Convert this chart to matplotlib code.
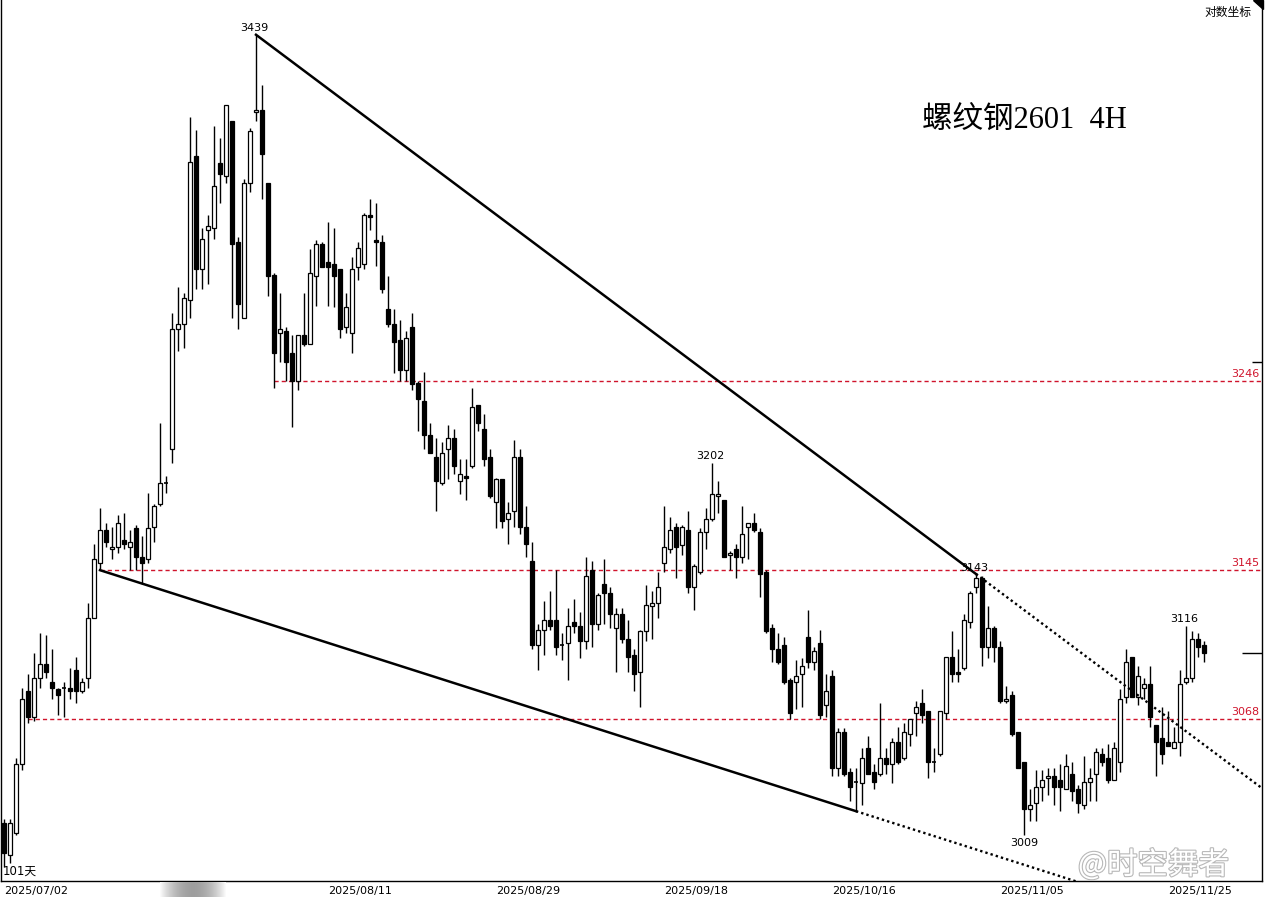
#rebar 2601 4H candles with wedge lines
import matplotlib
matplotlib.use('Agg')
import matplotlib.pyplot as plt
import matplotlib.patheffects as pe
from matplotlib.patches import Polygon
from matplotlib.ticker import FixedLocator, NullFormatter
import numpy as np

plt.rcParams['font.family'] = ['DejaVu Sans', 'Noto Sans CJK SC']

opens = [3015, 2999, 3010, 3045, 3082, 3069, 3089, 3096, 3087, 3083,
         3084, 3084, 3093, 3082, 3089, 3120, 3149, 3166, 3156, 3157,
         3161, 3157, 3167, 3152, 3151, 3168, 3180, 3191, 3209, 3274,
         3277, 3290, 3370, 3307, 3329, 3330, 3366, 3359, 3390, 3322,
         3280, 3355, 3395, 3396, 3355, 3304, 3272, 3273, 3261, 3246,
         3271, 3266, 3303, 3321, 3311, 3310, 3307, 3275, 3272, 3308,
         3310, 3337, 3323, 3322, 3285, 3277, 3268, 3252, 3275, 3245,
         3235, 3217, 3205, 3191, 3209, 3215, 3192, 3195, 3200, 3233,
         3220, 3205, 3181, 3193, 3172, 3176, 3205, 3168, 3150, 3106,
         3114, 3119, 3119, 3106, 3107, 3118, 3116, 3108, 3145, 3117,
         3138, 3133, 3115, 3122, 3109, 3101, 3092, 3113, 3126, 3128,
         3149, 3156, 3168, 3158, 3166, 3136, 3144, 3165, 3172, 3184,
         3182, 3153, 3156, 3152, 3168, 3170, 3165, 3144, 3115, 3104,
         3106, 3088, 3087, 3091, 3110, 3097, 3107, 3075, 3090, 3043,
         3061, 3041, 3036, 3035, 3053, 3041, 3040, 3048, 3045, 3056,
         3048, 3060, 3071, 3076, 3072, 3046, 3050, 3071, 3100, 3092,
         3094, 3118, 3136, 3141, 3105, 3115, 3105, 3077, 3080, 3061,
         3046, 3022, 3025, 3033, 3038, 3039, 3037, 3032, 3040, 3032,
         3024, 3036, 3040, 3050, 3048, 3037, 3046, 3079, 3100, 3079,
         3084, 3086, 3065, 3058, 3056, 3053, 3056, 3087, 3089, 3109,
         3106]
highs = [3017, 3017, 3048, 3084, 3091, 3102, 3112, 3111, 3104, 3084,
         3087, 3094, 3100, 3089, 3128, 3159, 3178, 3170, 3168, 3174,
         3175, 3166, 3169, 3163, 3186, 3180, 3223, 3195, 3283, 3297,
         3294, 3392, 3385, 3330, 3337, 3387, 3380, 3399, 3390, 3325,
         3357, 3386, 3439, 3410, 3355, 3305, 3294, 3275, 3271, 3271,
         3294, 3318, 3323, 3322, 3333, 3330, 3307, 3294, 3314, 3322,
         3338, 3346, 3344, 3326, 3303, 3285, 3279, 3273, 3283, 3246,
         3251, 3223, 3215, 3213, 3222, 3220, 3204, 3204, 3242, 3233,
         3228, 3209, 3194, 3193, 3181, 3214, 3209, 3179, 3160, 3117,
         3129, 3134, 3145, 3112, 3125, 3130, 3123, 3152, 3150, 3133,
         3151, 3136, 3125, 3125, 3119, 3104, 3114, 3137, 3134, 3144,
         3179, 3173, 3170, 3169, 3176, 3148, 3167, 3178, 3202, 3192,
         3182, 3155, 3159, 3179, 3170, 3175, 3167, 3145, 3117, 3112,
         3110, 3089, 3098, 3099, 3124, 3105, 3114, 3091, 3093, 3063,
         3063, 3043, 3043, 3053, 3059, 3045, 3076, 3053, 3058, 3064,
         3066, 3068, 3077, 3083, 3072, 3053, 3072, 3100, 3113, 3104,
         3122, 3134, 3143, 3142, 3126, 3116, 3108, 3085, 3082, 3061,
         3046, 3032, 3042, 3042, 3043, 3043, 3045, 3050, 3046, 3034,
         3049, 3043, 3053, 3053, 3055, 3056, 3083, 3104, 3100, 3095,
         3089, 3095, 3065, 3074, 3072, 3064, 3093, 3116, 3113, 3112,
         3108]
lows = [2993, 2995, 3009, 3042, 3066, 3067, 3084, 3089, 3078, 3070,
        3069, 3078, 3076, 3081, 3084, 3120, 3145, 3157, 3151, 3154,
        3156, 3145, 3145, 3138, 3149, 3160, 3179, 3186, 3202, 3262,
        3264, 3280, 3296, 3296, 3299, 3324, 3344, 3355, 3280, 3274,
        3280, 3350, 3390, 3346, 3292, 3242, 3256, 3246, 3221, 3241,
        3265, 3266, 3287, 3308, 3287, 3286, 3269, 3272, 3261, 3301,
        3307, 3329, 3309, 3294, 3275, 3250, 3246, 3246, 3241, 3219,
        3209, 3207, 3176, 3190, 3193, 3196, 3185, 3182, 3199, 3219,
        3200, 3183, 3167, 3167, 3159, 3168, 3164, 3152, 3104, 3093,
        3101, 3114, 3101, 3098, 3088, 3112, 3099, 3104, 3105, 3114,
        3117, 3115, 3092, 3107, 3092, 3082, 3074, 3108, 3109, 3120,
        3144, 3154, 3141, 3153, 3133, 3124, 3143, 3156, 3171, 3175,
        3152, 3145, 3141, 3149, 3151, 3165, 3131, 3112, 3097, 3096,
        3086, 3068, 3073, 3074, 3094, 3093, 3068, 3069, 3039, 3039,
        3039, 3026, 3021, 3024, 3040, 3032, 3039, 3040, 3035, 3045,
        3047, 3054, 3059, 3066, 3038, 3041, 3049, 3068, 3087, 3087,
        3093, 3115, 3133, 3095, 3099, 3097, 3076, 3076, 3059, 3043,
        3009, 3016, 3016, 3026, 3029, 3024, 3021, 3032, 3026, 3020,
        3022, 3026, 3026, 3044, 3035, 3037, 3041, 3076, 3079, 3075,
        3078, 3064, 3039, 3045, 3054, 3053, 3049, 3086, 3087, 3100,
        3097]
closes = [3000, 3015, 3045, 3078, 3069, 3089, 3096, 3092, 3084, 3080,
          3084, 3082, 3082, 3087, 3120, 3151, 3166, 3160, 3157, 3170,
          3159, 3160, 3152, 3149, 3167, 3179, 3191, 3191, 3274, 3277,
          3291, 3367, 3307, 3324, 3331, 3353, 3360, 3399, 3321, 3288,
          3355, 3384, 3396, 3371, 3303, 3261, 3274, 3256, 3246, 3271,
          3266, 3305, 3321, 3308, 3308, 3303, 3274, 3286, 3307, 3319,
          3337, 3336, 3322, 3296, 3277, 3267, 3252, 3269, 3244, 3236,
          3217, 3207, 3192, 3207, 3215, 3200, 3196, 3194, 3232, 3223,
          3204, 3184, 3193, 3171, 3175, 3205, 3168, 3159, 3106, 3114,
          3119, 3116, 3105, 3106, 3116, 3116, 3108, 3142, 3117, 3132,
          3133, 3122, 3122, 3109, 3100, 3091, 3113, 3127, 3128, 3136,
          3157, 3166, 3157, 3168, 3136, 3147, 3165, 3172, 3185, 3185,
          3152, 3154, 3152, 3164, 3170, 3166, 3143, 3113, 3104, 3097,
          3087, 3071, 3090, 3095, 3097, 3103, 3070, 3082, 3043, 3061,
          3040, 3033, 3036, 3048, 3040, 3036, 3048, 3045, 3056, 3046,
          3061, 3068, 3074, 3070, 3046, 3046, 3072, 3100, 3091, 3091,
          3119, 3133, 3141, 3105, 3115, 3105, 3077, 3078, 3060, 3043,
          3022, 3024, 3033, 3037, 3039, 3033, 3033, 3044, 3031, 3025,
          3036, 3038, 3051, 3046, 3037, 3053, 3078, 3097, 3079, 3090,
          3086, 3069, 3056, 3050, 3054, 3056, 3086, 3089, 3109, 3105,
          3102]

tick_idx = [0, 54, 82, 110, 138, 166, 194]
tick_labels = ['2025/07/02', '2025/08/11', '2025/08/29', '2025/09/18',
               '2025/10/16', '2025/11/05', '2025/11/25']

levels = [3246, 3145, 3068]
level_start = [45, 16, 4]
upper_pivots = [42, 162]   # highs joined by the falling line
lower_pivots = [16, 142]   # lows joined by the lower line
peak_marks = [42, 118, 162, 197]
trough_marks = [170]
right_mark = 3256

red = '#d0142c'
x_right = 209.67

fig = plt.figure(figsize=(12.65, 8.99), dpi=100)
ax = fig.add_axes([1 / 1265, 18 / 899, 1261 / 1265, 881 / 899])
ax.set_yscale('log')
ax.set_ylim(2986, 3459)
ax.set_xlim(-0.5, x_right)

o = np.array(opens, dtype=float)
h = np.array(highs, dtype=float)
l = np.array(lows, dtype=float)
c = np.array(closes, dtype=float)
x = np.arange(len(o))

ax.vlines(x, l, h, color='black', lw=1, zorder=2)
lo = np.minimum(o, c)
hi = np.maximum(o, c)
flat = hi == lo
fill = np.where(c >= o, 'white', 'black')
ax.bar(x[~flat], (hi - lo)[~flat], bottom=lo[~flat], width=0.72,
       color=fill[~flat], edgecolor='black', linewidth=0.9, zorder=3)
ax.hlines(o[flat], x[flat] - 0.36, x[flat] + 0.36, color='black', lw=1.2, zorder=3)


def line_at(i0, p0, i1, p1, xs):
    # straight on a log axis
    xs = np.asarray(xs, dtype=float)
    return np.exp(np.log(p0) + (np.log(p1) - np.log(p0)) * (xs - i0) / (i1 - i0))


a, b = upper_pivots
ax.plot([a, b], [h[a], h[b]], color='black', lw=1.8, zorder=4)
ax.plot([b, x_right], line_at(a, h[a], b, h[b], [b, x_right]),
        color='black', lw=1.7, ls=(0, (1, 1.3)), zorder=4)

a, b = lower_pivots
ax.plot([a, b], [l[a], l[b]], color='black', lw=1.8, zorder=4)
ax.plot([b, x_right], line_at(a, l[a], b, l[b], [b, x_right]),
        color='black', lw=1.7, ls=(0, (1, 1.3)), zorder=4)

for lev, st in zip(levels, level_start):
    ax.plot([st, x_right], [lev, lev], color=red, lw=1, ls=(0, (3, 2.2)), zorder=1)
    ax.annotate(str(lev), xy=(1, lev), xycoords=('axes fraction', 'data'),
                xytext=(-2, 1.5), textcoords='offset points',
                ha='right', va='bottom', fontsize=8, color=red)

for i in peak_marks:
    ax.annotate(str(int(h[i])), xy=(i, h[i]), xytext=(-1, 1), textcoords='offset points',
                ha='center', va='bottom', fontsize=8)
for i in trough_marks:
    ax.annotate(str(int(l[i])), xy=(i, l[i]), xytext=(0, -2), textcoords='offset points',
                ha='center', va='top', fontsize=8)

# right side marks
ax.yaxis.set_major_locator(FixedLocator([closes[-1]]))
ax.yaxis.set_minor_locator(FixedLocator([right_mark]))
ax.yaxis.set_major_formatter(NullFormatter())
ax.yaxis.set_minor_formatter(NullFormatter())
ax.tick_params(axis='y', which='both', left=False, right=True, direction='in',
               labelleft=False, labelright=False, width=1)
ax.tick_params(axis='y', which='major', length=14.4)
ax.tick_params(axis='y', which='minor', length=7.2)

ax.set_xticks(tick_idx)
ax.set_xticklabels(tick_labels, ha='left', fontsize=8)
ax.tick_params(axis='x', length=0, pad=3.5)

ax.spines['top'].set_visible(False)
for s in ['left', 'right', 'bottom']:
    ax.spines[s].set_linewidth(1)
    ax.spines[s].set_color('black')

ax.text(0.001, 0.011, '101天', transform=ax.transAxes, fontsize=8.5, va='center', ha='left')

fig.text(922 / 1265, 1 - 121 / 899, '螺纹钢2601  4H', fontsize=22,
         family=['Liberation Serif', 'Noto Sans CJK SC'], va='center', ha='left')
fig.text(1251 / 1265, 1 - 12 / 899, '对数坐标', fontsize=8.5, ha='right', va='center',
         family=['Noto Sans CJK SC', 'DejaVu Sans'])
fig.patches.append(Polygon([(1253 / 1265, 1), (1263 / 1265, 1), (1263 / 1265, 1 - 9 / 899)],
                           closed=True, transform=fig.transFigure, color='black'))

fig.text(1078 / 1265, 1 - 865 / 899, '@时空舞者', fontsize=22, color='white',
         va='center', ha='left', family=['Noto Sans CJK SC', 'DejaVu Sans'],
         path_effects=[pe.withStroke(linewidth=1.6, foreground='#b8b8b8')], zorder=10)

# grey smudge under the axis
sm = fig.add_axes([160 / 1265, 2 / 899, 66 / 1265, 15 / 899])
g = np.abs(np.linspace(-1, 1, 66))
sm.imshow(np.tile(0.62 + 0.36 * g ** 2, (15, 1)), cmap='gray', vmin=0, vmax=1, aspect='auto')
sm.axis('off')

plt.savefig('out.png', dpi=100)
plt.close(fig)
